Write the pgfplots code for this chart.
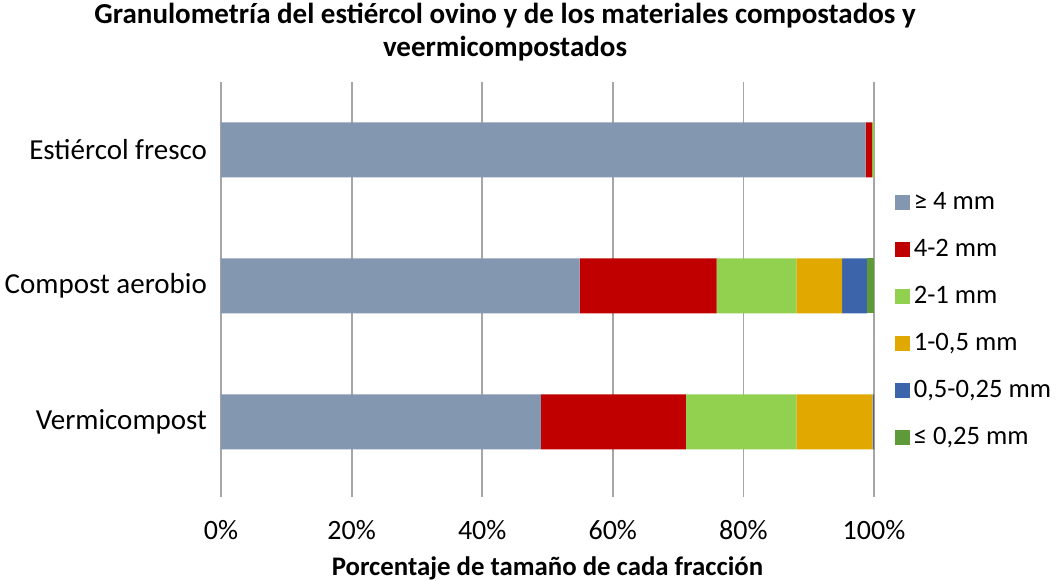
\documentclass[border=0pt]{standalone}
\usepackage{pgfplots}
\pgfplotsset{compat=1.18}
\usepackage{fontspec}
\setmainfont{Carlito}
\definecolor{cA}{HTML}{8497B0}
\definecolor{cB}{HTML}{C00000}
\definecolor{cC}{HTML}{92D050}
\definecolor{cD}{HTML}{E1A900}
\definecolor{cE}{HTML}{3C64AA}
\definecolor{cF}{HTML}{5F9A3A}
\definecolor{gridc}{HTML}{A6A6A6}
\begin{document}
\begin{tikzpicture}
\path[use as bounding box] (-110.5pt,-45.5pt) rectangle (419pt,245pt);
\begin{axis}[
  scale only axis,
  width=326.5pt, height=204pt,
  xbar stacked,
  bar width=27.5pt,
  xmin=0, xmax=100,
  ymin=-0.5, ymax=2.5,
  y dir=reverse,
  ytick={0,1,2},
  yticklabels={Estiércol fresco,Compost aerobio,Vermicompost},
  yticklabel style={font=\fontsize{14.5}{17}\selectfont},
  xtick={0,20,40,60,80,100},
  xticklabel={\pgfmathprintnumber{\tick}\%},
  /pgf/number format/assume math mode=true,
  xticklabel style={font=\fontsize{14}{16}\selectfont, yshift=-8pt},
  xmajorgrids,
  grid style={gridc, line width=0.9pt},
  axis x line*=bottom,
  axis y line*=left,
  x axis line style={draw=none},
  y axis line style={gridc, line width=0.9pt},
  ytick style={draw=none},
  xtick style={gridc, line width=0.9pt},
  tick align=outside,
  major tick length=3.5pt,
  xlabel={\textbf{Porcentaje de tamaño de cada fracción}},
  xlabel style={font=\fontsize{13.4}{15}\selectfont, yshift=-2pt},
  title={Granulometría del estiércol ovino y de los materiales compostados y\\veermicompostados},
  title style={font=\fontsize{14.5}{16.5}\selectfont\bfseries, align=center, at={(0.435,1)}, anchor=south, yshift=1pt},
  legend style={at={(1.022,0.75)}, anchor=north west, draw=none, fill=none,
    font=\fontsize{13.3}{15}\selectfont, row sep=9.4pt, cells={anchor=west}},
  legend image code/.code={\fill[#1] (0pt,-3.7pt) rectangle (7.5pt,3.8pt);},
  every axis plot/.append style={draw=none},
]
\addplot[fill=cA] coordinates {(98.7,0) (54.9,1) (49.0,2)};
\addplot[fill=cB] coordinates {(1.0,0) (21.0,1) (22.2,2)};
\addplot[fill=cC] coordinates {(0.3,0) (12.2,1) (16.9,2)};
\addplot[fill=cD] coordinates {(0,0) (7.0,1) (11.7,2)};
\addplot[fill=cE] coordinates {(0,0) (3.8,1) (0.2,2)};
\addplot[fill=cF] coordinates {(0,0) (1.1,1) (0.0,2)};
\legend{{≥ 4 mm},{4-2 mm},{2-1 mm},{1-0,5 mm},{0,5-0,25 mm},{≤ 0,25 mm}}
\end{axis}
\end{tikzpicture}
\end{document}
